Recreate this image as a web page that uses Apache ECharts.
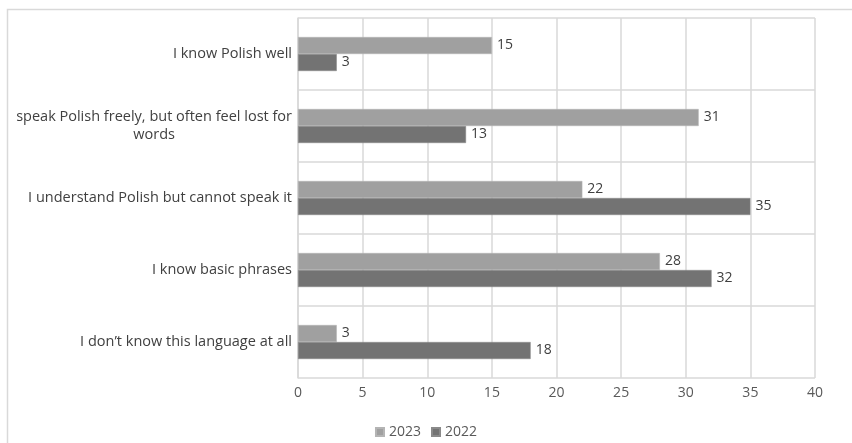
<!DOCTYPE html>
<html lang="en">
<head>
    <meta charset="UTF-8">
    <title>Polish language knowledge</title>
    <script src="https://cdn.jsdelivr.net/npm/echarts@6.0.0/dist/echarts.min.js"></script>
    <style>
        html, body { margin: 0; padding: 0; background: #fff; }
        #chart { width: 852px; height: 443px; }
    </style>
</head>
<body>
    <div id="chart"></div>
    <script>
        // categories, top to bottom
        const categories = [
            'I know Polish well',
            'speak Polish freely, but often feel lost for words',
            'I understand Polish but cannot speak it',
            'I know basic phrases',
            'I don\u2019t know this language at all'
        ];
        const values2023 = [15, 31, 22, 28, 3];
        const values2022 = [3, 13, 35, 32, 18];
        const seriesNames = ['2023', '2022'];

        const font = 'Open Sans, Liberation Sans, sans-serif';
        const chart = echarts.init(document.getElementById('chart'));

        const labelStyle = {
            show: true,
            position: 'right',
            distance: 5,
            color: '#404040',
            fontSize: 14,
            fontFamily: font
        };

        chart.setOption({
            animation: false,
            textStyle: { fontFamily: font },
            graphic: [{
                type: 'rect',
                shape: { x: 7.5, y: 9.5, width: 900, height: 500 },
                style: { fill: 'none', stroke: '#d9d9d9', lineWidth: 1.5 },
                silent: true
            }],
            grid: { left: 298, right: 37, top: 18, bottom: 65 },
            legend: {
                bottom: -1,
                left: 'center',
                icon: 'rect',
                itemWidth: 8,
                itemHeight: 8,
                itemGap: 10,
                textStyle: { color: '#595959', fontSize: 14, fontFamily: font },
                data: seriesNames
            },
            xAxis: {
                type: 'value',
                min: 0,
                max: 40,
                interval: 5,
                axisLine: { show: false },
                axisTick: { show: false },
                axisLabel: { color: '#595959', fontSize: 14, margin: 8 },
                splitLine: { lineStyle: { color: '#d9d9d9', width: 1.5 } }
            },
            yAxis: {
                type: 'category',
                inverse: true,
                data: categories,
                axisLine: { lineStyle: { color: '#d9d9d9', width: 1.5 } },
                axisTick: { show: false },
                splitLine: { show: true, lineStyle: { color: '#d9d9d9', width: 1.5 } },
                axisLabel: {
                    margin: 6,
                    color: '#404040',
                    fontSize: 14.5,
                    formatter: function (v) {
                        if (v.length > 45) {
                            const i = v.lastIndexOf(' ');
                            return '{c|' + v.slice(0, i) + '\n' + v.slice(i + 1) + '}';
                        }
                        return v;
                    },
                    rich: {
                        c: { align: 'center', color: '#404040', fontSize: 14.5, lineHeight: 18 }
                    }
                }
            },
            series: [{
                name: seriesNames[0],
                type: 'bar',
                data: values2023,
                barWidth: 17,
                barGap: '0%',
                itemStyle: { color: '#a0a0a0', borderColor: '#b4b4b4', borderWidth: 0.5 },
                label: labelStyle
            }, {
                name: seriesNames[1],
                type: 'bar',
                data: values2022,
                barWidth: 17,
                barGap: '0%',
                itemStyle: { color: '#737373', borderColor: '#8a8a8a', borderWidth: 0.5 },
                label: labelStyle
            }]
        });
    </script>
</body>
</html>
